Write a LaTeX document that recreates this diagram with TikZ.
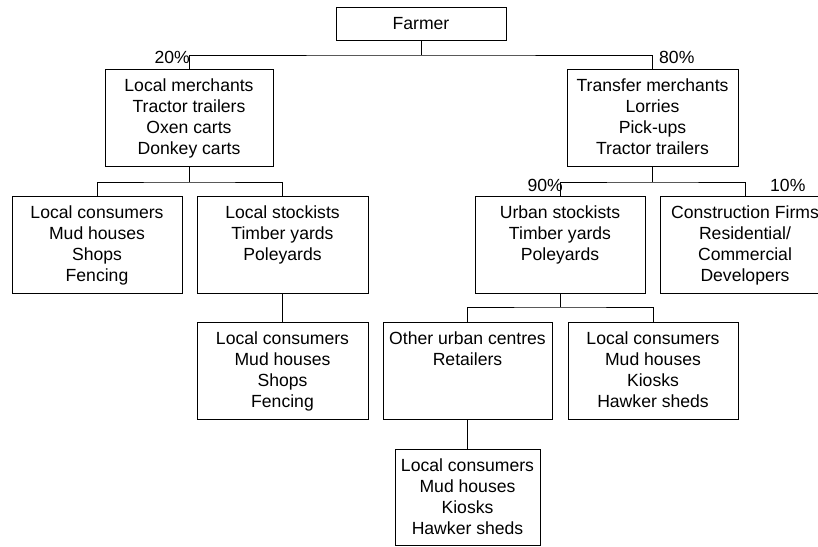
\documentclass[tikz,border=0pt]{standalone}
\usepackage{fontspec}
\setmainfont{Liberation Sans}
\newcommand\boxtxt[3]{\parbox[c][#2pt][t]{#1pt}{\centering\rule{0pt}{22pt}#3\par}}
\begin{document}
\begin{tikzpicture}[x=1pt,y=-1pt,
  box/.style={draw, line width=1pt, inner sep=0pt, outer sep=0pt, anchor=north west, font=\fontsize{17.6}{21.2}\selectfont},
  lbl/.style={inner sep=0pt, font=\fontsize{17.6}{21.2}\selectfont},
  link/.style={line width=1pt}]
\useasboundingbox (0,0) rectangle (818,546);
\fill[white] (0,0) rectangle (818,546);

\node[box] (farmer) at (336,7) {\boxtxt{170}{33}{Farmer}};
\node[box] (lm) at (105,69) {\boxtxt{168}{97}{Local merchants\\Tractor trailers\\Oxen carts\\Donkey carts}};
\node[box] (tm) at (567,69) {\boxtxt{171}{97}{Transfer merchants\\Lorries\\Pick-ups\\Tractor trailers}};
\node[box] (lc1) at (12,196) {\boxtxt{170}{97}{Local consumers\\Mud houses\\Shops\\Fencing}};
\node[box] (ls) at (197,196) {\boxtxt{171}{97}{Local stockists\\Timber yards\\Poleyards}};
\node[box] (us) at (475,196) {\boxtxt{170}{97}{Urban stockists\\Timber yards\\Poleyards}};
\node[box] (cf) at (660,196) {\boxtxt{170}{97}{Construction Firms\\Residential/\\Commercial\\Developers}};
\node[box] (lc2) at (197,322) {\boxtxt{171}{97}{Local consumers\\Mud houses\\Shops\\Fencing}};
\node[box] (ou) at (383,322) {\boxtxt{169}{97}{Other urban centres\\Retailers}};
\node[box] (lc3) at (568,322) {\boxtxt{170}{97}{Local consumers\\Mud houses\\Kiosks\\Hawker sheds}};
\node[box] (lc4) at (395,449) {\boxtxt{145}{96}{Local consumers\\Mud houses\\Kiosks\\Hawker sheds}};

\coordinate (j0) at (421,55);
\draw[link] (farmer.south) -- (j0);
\draw[link] (lm.north) |- (j0) -| (tm.north);
\draw[link] (lm.south) -- ++(0,16) coordinate (j1);
\draw[link] (lc1.north) |- (j1) -| (ls.north);
\draw[link] (tm.south) -- ++(0,16) coordinate (j2);
\draw[link] (us.north) |- (j2) -| (cf.north);
\draw[link] (ls.south) -- (lc2.north);
\draw[link] (us.south) -- ++(0,14) coordinate (j3);
\draw[link] (ou.north) |- (j3) -| (lc3.north);
\draw[link] (ou.south) -- (lc4.north);

\node[lbl, anchor=base east] (p20) at (190,63) {20\%};
\node[lbl, anchor=base west] (p80) at (659,63) {80\%};
\node[lbl, anchor=base east] (p90) at (563,191) {90\%};
\node[lbl, anchor=base west] (p10) at (770,191) {10\%};
\end{tikzpicture}
\end{document}
